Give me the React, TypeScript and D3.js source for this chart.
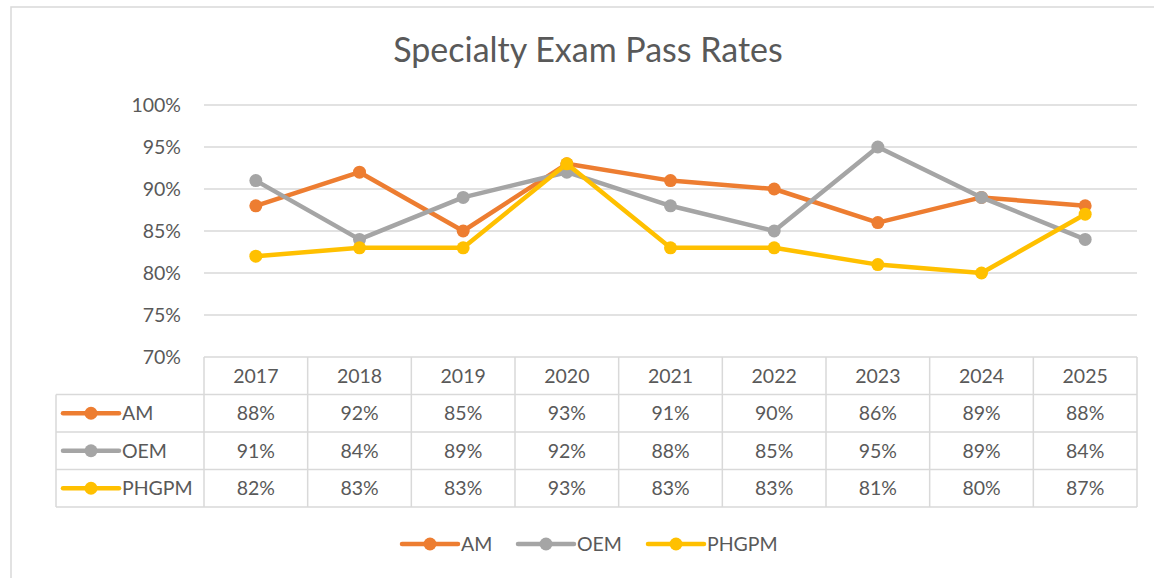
import { useEffect, useRef } from "react";
import * as d3 from "d3";

const years = ["2017", "2018", "2019", "2020", "2021", "2022", "2023", "2024", "2025"];
const amValues = [88, 92, 85, 93, 91, 90, 86, 89, 88];
const oemValues = [91, 84, 89, 92, 88, 85, 95, 89, 84];
const phgpmValues = [82, 83, 83, 93, 83, 83, 81, 80, 87];
const yTicks = [70, 75, 80, 85, 90, 95, 100];

const seriesNames = ["AM", "OEM", "PHGPM"];
const seriesColors = ["#ED7D31", "#A5A5A5", "#FFC000"];

const W = 1154;
const H = 578;
const FONT = "Lato, 'Open Sans', sans-serif";
const TEXT = "#595959";
const GRID = "#d9d9d9";
const FS = 19.5;

export default function App() {
  const ref = useRef<SVGSVGElement | null>(null);

  useEffect(() => {
    const svg = d3.select(ref.current);
    svg.selectAll("*").remove();

    const series = [amValues, oemValues, phgpmValues].map((v, i) => ({
      name: seriesNames[i],
      color: seriesColors[i],
      values: v,
    }));

    const left = 204;
    const right = 1137;
    const top = 105;
    const bottom = 357;
    const rowH = 37.5;
    const tableLeft = 56;

    const x = d3.scaleBand().domain(years).range([left, right]).padding(0);
    const y = d3.scaleLinear().domain([70, 100]).range([bottom, top]);

    // outer frame
    svg
      .append("rect")
      .attr("x", 11)
      .attr("y", 7)
      .attr("width", W)
      .attr("height", H)
      .attr("fill", "white")
      .attr("stroke", GRID)
      .attr("stroke-width", 1.5);

    svg
      .append("text")
      .attr("x", 588)
      .attr("y", 62)
      .attr("text-anchor", "middle")
      .attr("font-family", FONT)
      .attr("font-size", 34)
      .attr("fill", TEXT)
      .text("Specialty Exam Pass Rates");

    // gridlines + y labels
    const g = svg.append("g");
    yTicks.forEach((t) => {
      g.append("line")
        .attr("x1", left)
        .attr("x2", right)
        .attr("y1", y(t))
        .attr("y2", y(t))
        .attr("stroke", GRID)
        .attr("stroke-width", 1.5);
      g.append("text")
        .attr("x", 181)
        .attr("y", y(t))
        .attr("dy", "0.35em")
        .attr("text-anchor", "end")
        .attr("font-family", FONT)
        .attr("font-size", FS)
        .attr("fill", TEXT)
        .text(`${t}%`);
    });

    // data table
    const tbl = svg.append("g");
    const tableBottom = bottom + rowH * 4;
    const line = (x1: number, y1: number, x2: number, y2: number) =>
      tbl
        .append("line")
        .attr("x1", x1)
        .attr("y1", y1)
        .attr("x2", x2)
        .attr("y2", y2)
        .attr("stroke", GRID)
        .attr("stroke-width", 1.5);

    years.forEach((yr) => line(x(yr)!, bottom, x(yr)!, tableBottom));
    line(right, bottom, right, tableBottom);
    line(tableLeft, bottom + rowH, tableLeft, tableBottom);
    for (let r = 1; r <= 4; r++) {
      line(tableLeft, bottom + rowH * r, right, bottom + rowH * r);
    }

    const cellText = (cx: number, cy: number, s: string, anchor = "middle") =>
      tbl
        .append("text")
        .attr("x", cx)
        .attr("y", cy)
        .attr("dy", "0.35em")
        .attr("text-anchor", anchor)
        .attr("font-family", FONT)
        .attr("font-size", FS)
        .attr("fill", TEXT)
        .text(s);

    const bw = x.bandwidth();
    years.forEach((yr) => cellText(x(yr)! + bw / 2, bottom + rowH / 2, yr));

    const swatch = (parent: any, sx: number, sy: number, color: string) => {
      parent
        .append("line")
        .attr("x1", sx)
        .attr("x2", sx + 56)
        .attr("y1", sy)
        .attr("y2", sy)
        .attr("stroke", color)
        .attr("stroke-width", 4.5)
        .attr("stroke-linecap", "round");
      parent
        .append("circle")
        .attr("cx", sx + 28)
        .attr("cy", sy)
        .attr("r", 6.5)
        .attr("fill", color);
    };

    series.forEach((s, i) => {
      const cy = bottom + rowH * (i + 1.5);
      swatch(tbl, 63, cy, s.color);
      cellText(122, cy, s.name, "start");
      s.values.forEach((v, j) => cellText(x(years[j])! + bw / 2, cy, `${v}%`));
    });

    // lines
    const lineGen = d3
      .line<number>()
      .x((_, i) => x(years[i])! + bw / 2)
      .y((d) => y(d));

    series.forEach((s) => {
      const sg = svg.append("g");
      sg.append("path")
        .attr("d", lineGen(s.values))
        .attr("fill", "none")
        .attr("stroke", s.color)
        .attr("stroke-width", 4.5)
        .attr("stroke-linejoin", "round")
        .attr("stroke-linecap", "round");
      sg.selectAll("circle")
        .data(s.values)
        .join("circle")
        .attr("cx", (_, i) => x(years[i])! + bw / 2)
        .attr("cy", (d) => y(d))
        .attr("r", 6.5)
        .attr("fill", s.color);
    });

    // legend
    const lg = svg.append("g");
    const legendX = [402, 518, 648];
    series.forEach((s, i) => {
      swatch(lg, legendX[i], 544, s.color);
      lg.append("text")
        .attr("x", legendX[i] + 59)
        .attr("y", 544)
        .attr("dy", "0.35em")
        .attr("font-family", FONT)
        .attr("font-size", FS)
        .attr("fill", TEXT)
        .text(s.name);
    });
  }, []);

  return (
    <svg
      ref={ref}
      width={W}
      height={H}
      style={{ position: "fixed", left: 0, top: 0, display: "block" }}
    />
  );
}
